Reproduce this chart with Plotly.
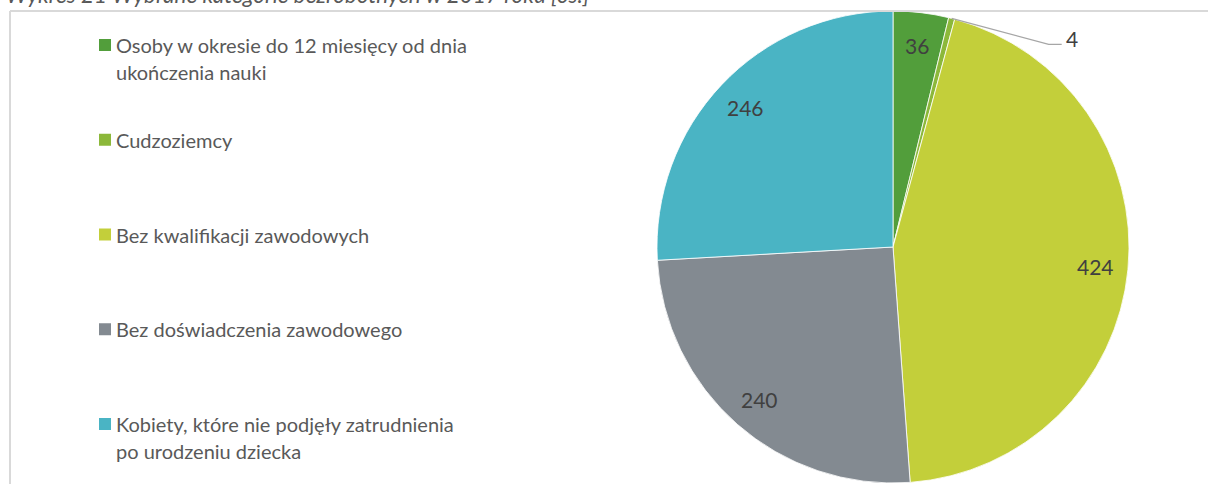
import math
import plotly.graph_objects as go

# ---- data ----
categories = [
    "Osoby w okresie do 12 miesięcy od dnia<br>ukończenia nauki",
    "Cudzoziemcy",
    "Bez kwalifikacji zawodowych",
    "Bez doświadczenia zawodowego",
    "Kobiety, które nie podjęły zatrudnienia<br>po urodzeniu dziecka",
]
values = [36, 4, 424, 240, 246]
colors = ["#529e3b", "#8cb83a", "#c3cf3a", "#838a91", "#4ab4c4"]
title_text = "Wykres 21 Wybrane kategorie bezrobotnych w 2017 roku [os.]"

W, H = 1208, 484
CX, CY, R = 893, 247, 236  # pie centre / radius in pixels

def px(x):
    return x / W

def py(y):
    return 1 - y / H

fig = go.Figure()
fig.add_trace(go.Pie(
    labels=[c.replace("<br>", " ") for c in categories],
    values=values,
    marker=dict(colors=colors, line=dict(color="white", width=0.8)),
    sort=False,
    direction="clockwise",
    rotation=0,
    textinfo="none",
    hoverinfo="label+value",
    showlegend=False,
    domain=dict(x=[px(CX - R), px(CX + R)], y=[py(CY + R), py(CY - R)]),
))

annotations = []
shapes = []

# data labels computed from slice angles
total = sum(values)
cum = 0
for v in values:
    a0 = cum / total * 2 * math.pi
    cum += v
    a1 = cum / total * 2 * math.pi
    mid = (a0 + a1) / 2
    frac = v / total
    if frac > 0.02:
        r = 0.86 * R
        x = CX + r * math.sin(mid)
        y = CY - r * math.cos(mid)
        annotations.append(dict(
            x=px(x), y=py(y), xref="paper", yref="paper", text=str(v),
            showarrow=False, xanchor="center", yanchor="middle",
            font=dict(family="Lato", size=21, color="#404040")))
    else:
        # outside label with leader line
        ex = CX + R * math.sin(mid)
        ey = CY - R * math.cos(mid)
        kx, ky = ex + 97, ey + 26
        hx = kx + 13
        shapes.append(dict(type="path", xref="paper", yref="paper",
                           path=f"M {px(ex)} {py(ey)} L {px(kx)} {py(ky)} L {px(hx)} {py(ky)}",
                           line=dict(color="#a6a6a6", width=1.3)))
        annotations.append(dict(
            x=px(hx + 2), y=py(ky - 6), xref="paper", yref="paper", text=str(v),
            showarrow=False, xanchor="left", yanchor="middle",
            font=dict(family="Lato", size=21, color="#404040")))

# custom legend
leg_y0, leg_dy = 45, 94.75
line_gap = 27
for i, (cat, col) in enumerate(zip(categories, colors)):
    yc = leg_y0 + i * leg_dy
    shapes.append(dict(type="rect", xref="paper", yref="paper",
                       x0=px(99), x1=px(111), y0=py(yc - 6), y1=py(yc + 6),
                       fillcolor=col, line=dict(width=0)))
    for j, line in enumerate(cat.split("<br>")):
        annotations.append(dict(
            x=px(114), y=py(yc + j * line_gap), xref="paper", yref="paper",
            text=line, showarrow=False, xanchor="left", yanchor="middle",
            font=dict(family="Lato", size=20, color="#595959")))

# frame lines (top and left)
shapes.append(dict(type="line", xref="paper", yref="paper",
                   x0=px(10), x1=1.01, y0=py(11), y1=py(11),
                   line=dict(color="#d9d9d9", width=2)))
shapes.append(dict(type="line", xref="paper", yref="paper",
                   x0=px(10), x1=px(10), y0=py(11), y1=-0.01,
                   line=dict(color="#d9d9d9", width=2)))

# title (partially clipped at top, as in the reference)
annotations.append(dict(
    x=px(4), y=py(10), xref="paper", yref="paper", text=f"<i>{title_text}</i>",
    showarrow=False, xanchor="left", yanchor="bottom",
    font=dict(family="Lato", size=22.5, color="#595959")))

fig.update_layout(
    width=W, height=H,
    margin=dict(l=0, r=0, t=0, b=0),
    paper_bgcolor="white", plot_bgcolor="white",
    annotations=annotations, shapes=shapes,
)

fig.write_html("out.html", config={"displayModeBar": False},
               post_script="document.body.style.margin='0';")
